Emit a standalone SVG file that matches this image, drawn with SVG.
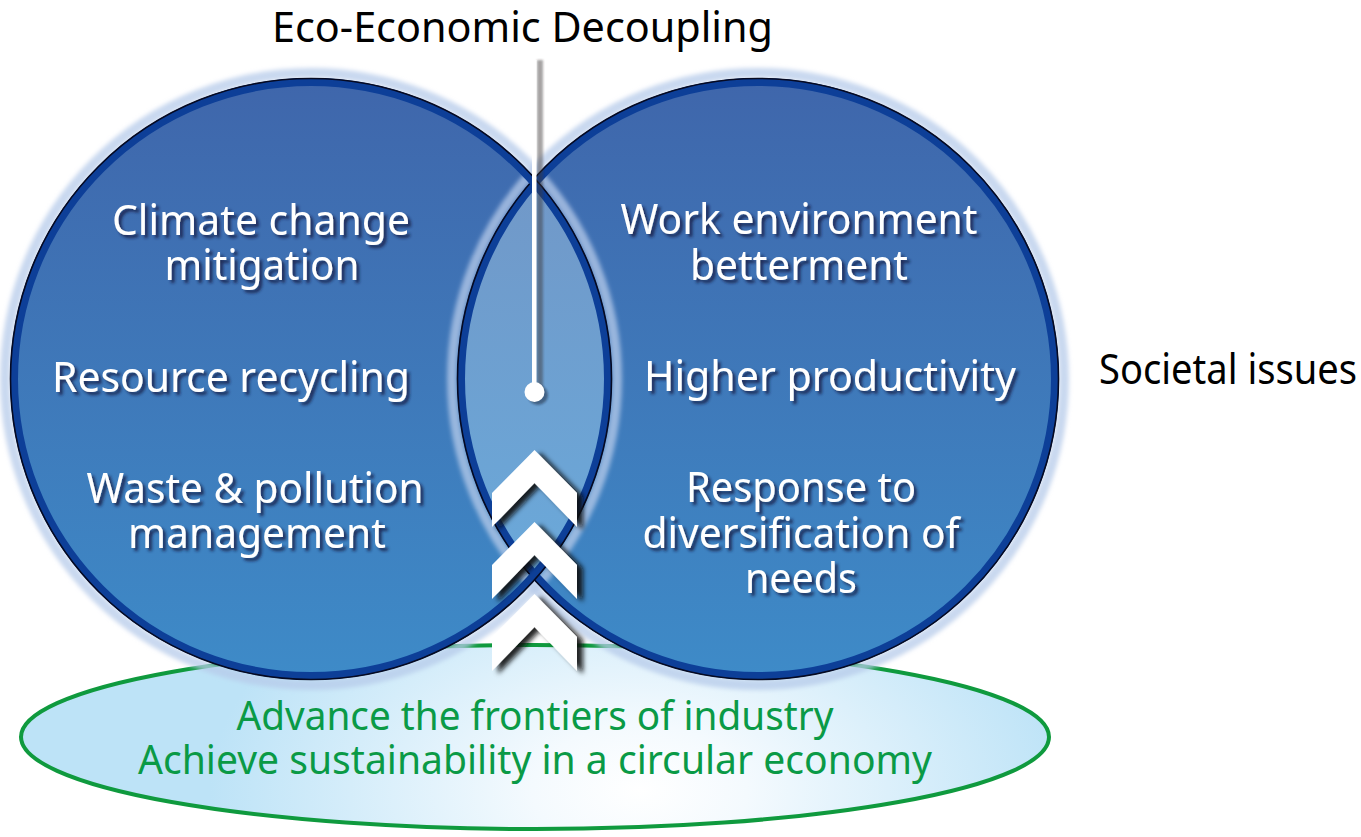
<svg xmlns="http://www.w3.org/2000/svg" width="1361" height="837" viewBox="0 0 1361 837">
  <defs>
    <linearGradient id="gCircle" x1="0" y1="78" x2="0" y2="680" gradientUnits="userSpaceOnUse">
      <stop offset="0" stop-color="#3f66ab"/>
      <stop offset="1" stop-color="#3e8bc8"/>
    </linearGradient>
    <linearGradient id="gLens" x1="0" y1="177" x2="0" y2="581" gradientUnits="userSpaceOnUse">
      <stop offset="0" stop-color="#7198c8"/>
      <stop offset="1" stop-color="#6aa9da"/>
    </linearGradient>
    <radialGradient id="gEllipse" cx="640" cy="790" r="430" gradientUnits="userSpaceOnUse" gradientTransform="translate(640 790) scale(1 0.6) translate(-640 -790)">
      <stop offset="0" stop-color="#ffffff"/>
      <stop offset="0.25" stop-color="#f4fafe"/>
      <stop offset="1" stop-color="#bde3f7"/>
    </radialGradient>
    <filter id="fText" x="-10%" y="-30%" width="120%" height="160%">
      <feDropShadow dx="3" dy="3" stdDeviation="1.8" flood-color="#12234a" flood-opacity="0.85"/>
    </filter>
    <filter id="fShadow" x="-30%" y="-30%" width="160%" height="160%">
      <feDropShadow dx="6" dy="3" stdDeviation="2.5" flood-color="#111111" flood-opacity="0.9"/>
    </filter>
    <filter id="fBlur" x="-5%" y="-5%" width="110%" height="110%">
      <feGaussianBlur stdDeviation="2"/>
    </filter>
    <filter id="fSoft" x="-200%" y="-10%" width="500%" height="120%">
      <feGaussianBlur stdDeviation="1"/>
    </filter>
    <clipPath id="clipLeft">
      <circle cx="311" cy="379" r="301"/>
    </clipPath>
    <polygon id="chev" points="0,0 42.5,43 42.5,77 0,33 -42.5,77 -42.5,43"/>
  </defs>
  <style>
    .inner { font-family: "Noto Sans", "Open Sans", sans-serif; font-size: 42px; fill: #ffffff; text-anchor: middle; }
    .black { font-family: "Noto Sans", "Open Sans", sans-serif; font-size: 42px; fill: #000000; }
    .green { font-family: "Noto Sans", "Open Sans", sans-serif; font-size: 40px; fill: #0a9a46; text-anchor: middle; }
    .glow { fill: none; stroke: #b7cbea; stroke-width: 10; opacity: 0.75; }
    .band { fill: none; stroke: #0d3f98; stroke-width: 8; }
    .edge { fill: none; stroke: #060a22; stroke-width: 1.6; }
    .chev { fill: #ffffff; }
  </style>

  <rect width="1361" height="837" fill="#ffffff"/>

  <g id="base-ellipse">
    <ellipse cx="535" cy="737" rx="514" ry="92" fill="url(#gEllipse)" stroke="#0f9a3e" stroke-width="4"/>
  </g>

  <g id="circle-left-fill">
    <circle cx="311" cy="379" r="301" fill="url(#gCircle)"/>
  </g>
  <g id="circle-right-fill">
    <circle cx="758" cy="379" r="301" fill="url(#gCircle)"/>
  </g>

  <g id="lens">
    <circle cx="758" cy="379" r="301" fill="url(#gLens)" clip-path="url(#clipLeft)"/>
  </g>

  <g id="circle-borders">
    <g filter="url(#fBlur)">
      <circle class="glow" cx="311" cy="379" r="306"/>
      <circle class="glow" cx="758" cy="379" r="306"/>
    </g>
    <circle class="band" cx="758" cy="379" r="297"/>
    <circle class="edge" cx="758" cy="379" r="300.5"/>
    <circle class="band" cx="311" cy="379" r="297"/>
    <circle class="edge" cx="311" cy="379" r="300.5"/>
  </g>

  <g id="node-left" filter="url(#fText)">
    <text class="inner" x="261" y="235" textLength="298" lengthAdjust="spacingAndGlyphs">Climate change</text>
    <text class="inner" x="262" y="280" textLength="195" lengthAdjust="spacingAndGlyphs">mitigation</text>
    <text class="inner" x="231" y="392" textLength="358" lengthAdjust="spacingAndGlyphs">Resource recycling</text>
    <text class="inner" x="255" y="503" textLength="337" lengthAdjust="spacingAndGlyphs">Waste &amp; pollution</text>
    <text class="inner" x="257" y="548" textLength="258" lengthAdjust="spacingAndGlyphs">management</text>
  </g>

  <g id="node-right" filter="url(#fText)">
    <text class="inner" x="799" y="234" textLength="357" lengthAdjust="spacingAndGlyphs">Work environment</text>
    <text class="inner" x="799" y="280" textLength="218" lengthAdjust="spacingAndGlyphs">betterment</text>
    <text class="inner" x="830" y="391" textLength="372" lengthAdjust="spacingAndGlyphs">Higher productivity</text>
    <text class="inner" x="801" y="502" textLength="230" lengthAdjust="spacingAndGlyphs">Response to</text>
    <text class="inner" x="801" y="548" textLength="317" lengthAdjust="spacingAndGlyphs">diversification of</text>
    <text class="inner" x="801" y="593" textLength="112" lengthAdjust="spacingAndGlyphs">needs</text>
  </g>

  <g id="node-base-text">
    <text class="green" x="535" y="730" textLength="597" lengthAdjust="spacingAndGlyphs">Advance the frontiers of industry</text>
    <text class="green" x="535" y="774" textLength="794" lengthAdjust="spacingAndGlyphs">Achieve sustainability in a circular economy</text>
  </g>

  <g id="label-title">
    <text class="black" x="272" y="42" textLength="501" lengthAdjust="spacingAndGlyphs">Eco-Economic Decoupling</text>
  </g>
  <g id="label-societal">
    <text class="black" x="1099" y="384" textLength="258" lengthAdjust="spacingAndGlyphs">Societal issues</text>
  </g>

  <g id="connectors">
    <g id="pointer">
      <rect x="537" y="60" width="6" height="334" fill="#3c3232" fill-opacity="0.45" filter="url(#fSoft)"/>
      <circle cx="538" cy="395" r="10" fill="#1c2438" fill-opacity="0.5" filter="url(#fSoft)"/>
      <rect x="532" y="60" width="4.5" height="332" fill="#ffffff"/>
      <circle cx="534.5" cy="392" r="10" fill="#ffffff"/>
    </g>
    <g id="chevrons" filter="url(#fShadow)">
      <use href="#chev" class="chev" x="534.5" y="450"/>
      <use href="#chev" class="chev" x="534.5" y="522"/>
      <use href="#chev" class="chev" x="534.5" y="594"/>
    </g>
  </g>
</svg>
